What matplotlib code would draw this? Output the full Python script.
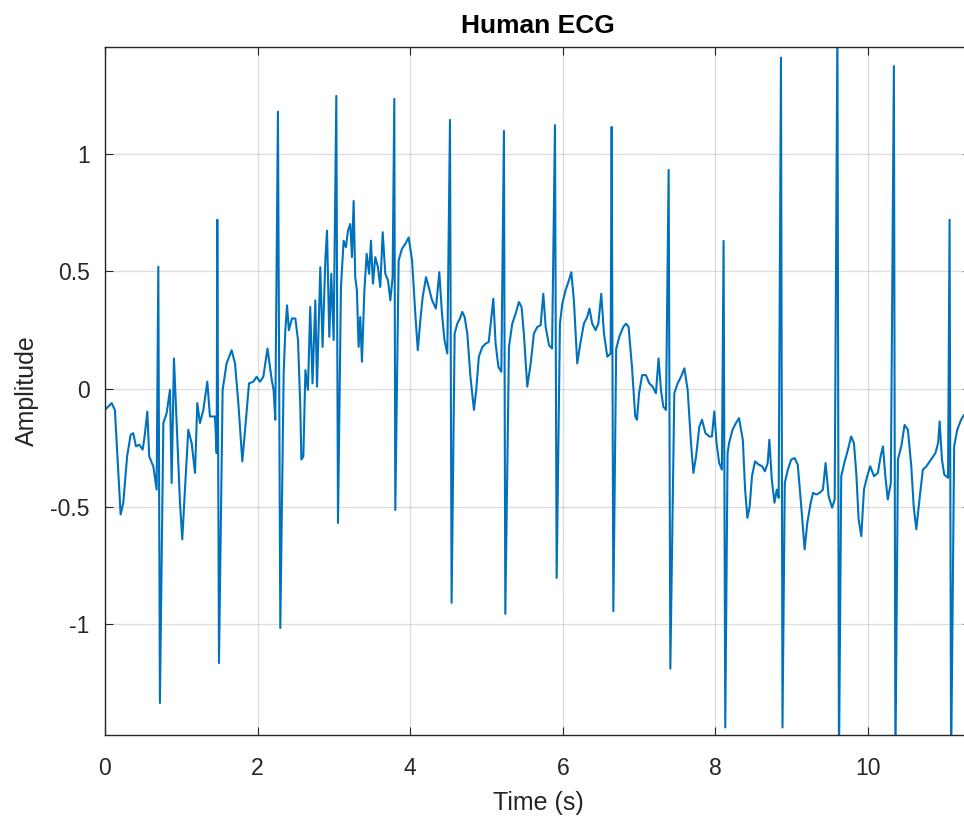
"""Human ECG trace, MATLAB-like look, saved to out.png."""

import matplotlib
matplotlib.use("Agg")
import matplotlib.pyplot as plt
import numpy as np

plt.rcParams.update({
    "font.family": ["Liberation Sans", "DejaVu Sans"],
    "axes.edgecolor": "#262626",
    "axes.linewidth": 1.0,
    "xtick.color": "#262626",
    "ytick.color": "#262626",
    "xtick.direction": "in",
    "ytick.direction": "in",
    "xtick.major.size": 6,
    "ytick.major.size": 6,
})

# QRS complexes: R peak and S trough for each beat (seconds, amplitude)
r_time = [0.699, 1.472, 2.267, 3.032, 3.792, 4.522, 5.229, 5.898, 6.641,
          7.388, 8.108, 8.86, 9.60, 10.34, 11.07]
r_amp = [0.52, 0.72, 1.18, 1.247, 1.234, 1.145, 1.098, 1.123, 1.115,
         0.932, 0.63, 1.41, 1.55, 1.374, 0.72]
s_time = [0.72, 1.494, 2.298, 3.054, 3.805, 4.543, 5.247, 5.92, 6.663,
          7.41, 8.13, 8.88, 9.62, 10.36, 11.09]
s_amp = [-1.336, -1.166, -1.017, -0.57, -0.515, -0.91, -0.957, -0.804, -0.945,
         -1.19, -1.44, -1.44, -1.6, -1.6, -1.6]

# baseline (P/T waves, noise)
base_time = [
    0.0, 0.087, 0.13, 0.175, 0.205, 0.24, 0.29, 0.336, 0.37, 0.406, 0.45,
    0.494, 0.52, 0.555, 0.58, 0.634, 0.677,
    0.765, 0.808, 0.852, 0.874, 0.904, 0.94, 0.983, 1.013, 1.048, 1.092,
    1.136, 1.18, 1.21, 1.245, 1.289, 1.341, 1.376, 1.442, 1.464,
    1.542, 1.594, 1.66, 1.704, 1.748, 1.8, 1.844, 1.888, 1.944, 1.988, 2.03,
    2.075, 2.13, 2.186, 2.21, 2.232,
    2.342, 2.364, 2.386, 2.41, 2.45, 2.495, 2.53, 2.56, 2.574, 2.6, 2.627,
    2.66, 2.69, 2.72, 2.757, 2.779, 2.822, 2.852, 2.888, 2.91, 2.94, 2.966,
    2.997,
    3.093, 3.128, 3.158, 3.185, 3.215, 3.237, 3.259, 3.28, 3.302, 3.324,
    3.346, 3.368, 3.4, 3.43, 3.462, 3.486, 3.512, 3.543, 3.578, 3.608, 3.64,
    3.674, 3.71, 3.74, 3.77,
    3.849, 3.892, 3.936, 3.98, 4.025, 4.07, 4.1, 4.133, 4.164, 4.208, 4.243,
    4.287, 4.338, 4.382, 4.417, 4.45, 4.487,
    4.583, 4.618, 4.653, 4.683, 4.714, 4.749, 4.79, 4.836, 4.866, 4.9, 4.946,
    4.99, 5.03, 5.09, 5.12, 5.156, 5.195,
    5.295, 5.338, 5.382, 5.425, 5.46, 5.49, 5.535, 5.58, 5.622, 5.666, 5.71,
    5.745, 5.776, 5.82, 5.86,
    5.963, 5.994, 6.037, 6.081, 6.112, 6.146, 6.19, 6.23, 6.277, 6.32, 6.35,
    6.386, 6.43, 6.466, 6.505, 6.54, 6.584, 6.628,
    6.70, 6.741, 6.793, 6.828, 6.863, 6.907, 6.95, 6.973, 7.0, 7.04, 7.09,
    7.134, 7.178, 7.221, 7.256, 7.287, 7.318, 7.353,
    7.462, 7.506, 7.55, 7.594, 7.637, 7.681, 7.712, 7.747, 7.79, 7.825, 7.87,
    7.92, 7.955, 7.986, 8.016, 8.05, 8.086,
    8.16, 8.18, 8.225, 8.27, 8.31, 8.36, 8.39, 8.42, 8.45, 8.48, 8.52, 8.57,
    8.614, 8.65, 8.686, 8.708, 8.74, 8.775, 8.805, 8.83,
    8.91, 8.95, 8.995, 9.04, 9.08, 9.126, 9.17, 9.205, 9.25, 9.28, 9.323,
    9.367, 9.41, 9.445, 9.485, 9.53, 9.564,
    9.65, 9.69, 9.738, 9.78, 9.816, 9.847, 9.878, 9.913, 9.948, 9.99, 10.03,
    10.08, 10.13, 10.166, 10.197, 10.228, 10.26, 10.3,
    10.393, 10.437, 10.48, 10.524, 10.568, 10.6, 10.634, 10.68, 10.72,
    10.766, 10.81, 10.853, 10.884, 10.92, 10.94, 10.97, 11.0, 11.05,
    11.13, 11.17, 11.22, 11.26, 11.35,
]
base_amp = [
    -0.089, -0.06, -0.09, -0.357, -0.534, -0.484, -0.287, -0.195, -0.188,
    -0.244, -0.237, -0.258, -0.2, -0.096, -0.287, -0.33, -0.428,
    -0.145, -0.103, -0.004, -0.40, 0.13, -0.145, -0.484, -0.64, -0.428,
    -0.174, -0.23, -0.357, -0.06, -0.145, -0.089, 0.031, -0.117, -0.117,
    -0.273,
    -0.004, 0.109, 0.165, 0.109, -0.06, -0.308, -0.145, 0.024, 0.031, 0.052,
    0.031, 0.052, 0.172, 0.038, -0.004, -0.131,
    0.066, 0.25, 0.356, 0.25, 0.30, 0.30, 0.208, -0.075, -0.30, -0.287, 0.08,
    -0.004, 0.349, 0.024, 0.377, 0.01, 0.518, 0.179, 0.547, 0.674, 0.222,
    0.49, 0.208,
    0.434, 0.631, 0.603, 0.674, 0.702, 0.561, 0.80, 0.476, 0.42, 0.179,
    0.306, 0.116, 0.42, 0.575, 0.49, 0.631, 0.448, 0.561, 0.518, 0.434, 0.667,
    0.49, 0.462, 0.377, 0.476,
    0.547, 0.596, 0.617, 0.645, 0.547, 0.306, 0.165, 0.292, 0.391, 0.476,
    0.434, 0.377, 0.342, 0.497, 0.32, 0.208, 0.151,
    0.236, 0.278, 0.30, 0.328, 0.306, 0.236, 0.052, -0.089, -0.004, 0.137,
    0.179, 0.193, 0.20, 0.384, 0.193, 0.095, 0.073,
    0.179, 0.278, 0.32, 0.37, 0.349, 0.236, 0.01, 0.109, 0.236, 0.264, 0.271,
    0.405, 0.264, 0.186, 0.172,
    0.278, 0.363, 0.42, 0.462, 0.497, 0.377, 0.109, 0.193, 0.278, 0.306,
    0.342, 0.278, 0.25, 0.278, 0.405, 0.236, 0.137, 0.151,
    0.17, 0.222, 0.264, 0.278, 0.264, 0.095, -0.117, -0.131, -0.018, 0.059,
    0.059, 0.024, 0.01, -0.018, 0.13, -0.004, -0.075, -0.089,
    -0.018, 0.024, 0.052, 0.088, -0.004, -0.23, -0.357, -0.287, -0.16,
    -0.131, -0.188, -0.202, -0.202, -0.096, -0.23, -0.315, -0.343,
    -0.273, -0.23, -0.174, -0.145, -0.124, -0.216, -0.428, -0.548, -0.50,
    -0.371, -0.308, -0.322, -0.329, -0.35, -0.315, -0.216, -0.386, -0.484,
    -0.428, -0.463,
    -0.40, -0.343, -0.30, -0.294, -0.322, -0.50, -0.682, -0.57, -0.484,
    -0.442, -0.449, -0.442, -0.428, -0.315, -0.456, -0.505, -0.47,
    -0.371, -0.315, -0.258, -0.202, -0.23, -0.357, -0.555, -0.626, -0.428,
    -0.371, -0.329, -0.371, -0.357, -0.287, -0.244, -0.371, -0.47, -0.40,
    -0.30, -0.244, -0.153, -0.174, -0.329, -0.50, -0.597, -0.456, -0.343,
    -0.329, -0.308, -0.287, -0.273, -0.23, -0.138, -0.30, -0.364, -0.378,
    -0.244, -0.174, -0.131, -0.11, -0.12,
]

x_ticks = [0, 2, 4, 6, 8, 10]
y_ticks = [-1, -0.5, 0, 0.5, 1]
y_tick_labels = ["-1", "-0.5", "0", "0.5", "1"]

t = np.concatenate([base_time, r_time, s_time])
v = np.concatenate([base_amp, r_amp, s_amp])
order = np.argsort(t, kind="stable")
t, v = t[order], v[order]

fig = plt.figure(figsize=(9.64, 8.19), dpi=100)
ax = fig.add_axes([0.1089, 0.1026, 0.8983, 0.8400])
ax.plot(t, v, color="#0072BD", linewidth=1.5)

ax.set_xlim(0, 11.35)
ax.set_ylim(-1.472, 1.455)
ax.set_xticks(x_ticks)
ax.set_yticks(y_ticks)
ax.set_yticklabels(y_tick_labels)
ax.tick_params(labelsize=16.5, top=True, right=True)
ax.tick_params(axis="x", pad=16)
ax.tick_params(axis="y", pad=11)
ax.grid(True, color="#262626", alpha=0.15, linewidth=1.0)

ax.set_title("Human ECG", fontsize=19, fontweight="bold", color="black", pad=10)
ax.set_xlabel("Time (s)", fontsize=18, color="#262626", labelpad=8)
ax.set_ylabel("Amplitude", fontsize=18, color="#262626", labelpad=8)

fig.savefig("out.png", dpi=100)
